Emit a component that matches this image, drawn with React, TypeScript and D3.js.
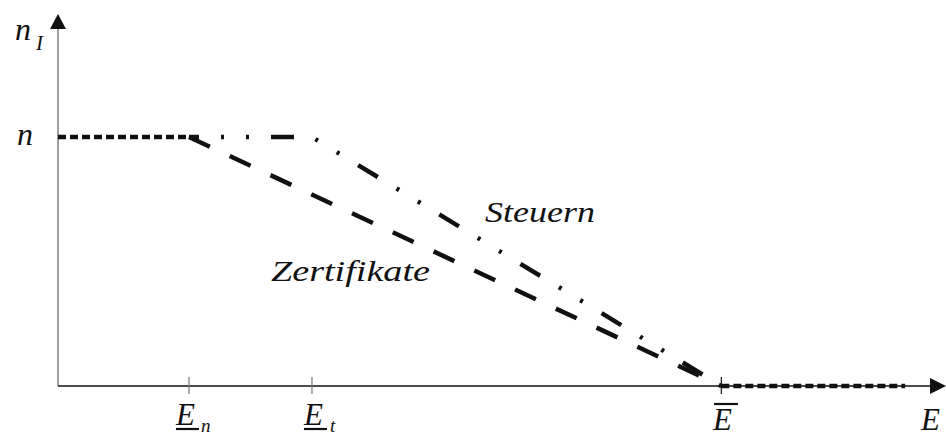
import React from "react";
import * as d3 from "d3";

// Data (abstract units)
const E_n = 14.75;
const E_t = 28.6;
const E_bar = 74.7;
const E_end = 95.4;
const nLevel = 1;

const flatBefore: [number, number][] = [[0, nLevel], [E_n, nLevel]];
const steuern: [number, number][] = [[E_n, nLevel], [E_t, nLevel], [E_bar, 0]];
const zertifikate: [number, number][] = [[E_n, nLevel], [E_bar, 0]];
const flatAfter: [number, number][] = [[E_bar, 0], [E_end, 0]];
const xTicks = [E_n, E_t, E_bar];

const W = 946, H = 436;

export default function App() {
  const x = d3.scaleLinear().domain([0, 100]).range([58, 946]);
  const y = d3.scaleLinear().domain([0, 1]).range([386, 137]);
  const line = d3.line<[number, number]>().x(d => x(d[0])).y(d => y(d[1]));
  const font = "'Liberation Serif', 'DejaVu Serif', serif";
  const x0 = x(0), y0 = y(0);
  const ts = { fontFamily: font, fontStyle: "italic" as const };
  return (
    <svg width={W} height={H} style={{ position: "absolute", left: 0, top: 0, background: "#fff" }}>
      {/* y axis */}
      <line x1={x0} y1={y0} x2={x0} y2={26} stroke="#888" strokeWidth={1.6} />
      <path d={`M${x0},14 L${x0 - 8},29 L${x0 + 8},29 Z`} fill="#111" />
      {/* x axis */}
      <line x1={x0} y1={y0} x2={936} y2={y0} stroke="#111" strokeWidth={1.4} />
      <path d={`M946,${y0} L930,${y0 - 8} L930,${y0 + 8} Z`} fill="#111" />
      {xTicks.map((t, i) => (
        <line key={i} x1={x(t)} x2={x(t)} y1={y0 - 9} y2={y0 + 8} stroke={i < 2 ? "#777" : "#111"} strokeWidth={1.2} />
      ))}
      {/* lines */}
      <path d={line(flatBefore) || ""} fill="none" stroke="#111" strokeWidth={4.5} strokeDasharray="8 4" />
      <path d={line(flatAfter) || ""} fill="none" stroke="#111" strokeWidth={4.5} strokeDasharray="8 4" />
      <path d={line(zertifikate) || ""} fill="none" stroke="#111" strokeWidth={4.5} strokeDasharray="23 22" />
      <path d={line(steuern) || ""} fill="none" stroke="#111" strokeWidth={4.5} strokeDasharray="23 22 3 22 3 22" strokeDashoffset={13} />
      {/* labels */}
      <g fill="#111">
        <text x={15} y={40} fontSize={32} style={ts}>n</text>
        <text x={36} y={50} fontSize={21} style={ts}>I</text>
        <text x={17} y={145} fontSize={32} style={ts}>n</text>
        <text x={485} y={222} fontSize={29} style={ts} textLength={110} lengthAdjust="spacingAndGlyphs">Steuern</text>
        <text x={271} y={281} fontSize={29} style={ts} textLength={159} lengthAdjust="spacingAndGlyphs">Zertifikate</text>
        <text x={176} y={425} fontSize={31} style={ts}>E</text>
        <text x={201} y={432} fontSize={19} style={ts}>n</text>
        <line x1={176} x2={199} y1={429} y2={429} stroke="#111" strokeWidth={2.2} />
        <text x={304} y={425} fontSize={31} style={ts}>E</text>
        <text x={330} y={432} fontSize={19} style={ts}>t</text>
        <line x1={304} x2={327} y1={429} y2={429} stroke="#111" strokeWidth={2.2} />
        <text x={713} y={430} fontSize={31} style={ts}>E</text>
        <line x1={714} x2={738} y1={404} y2={404} stroke="#111" strokeWidth={2.2} />
        <text x={921} y={430} fontSize={31} style={ts}>E</text>
      </g>
    </svg>
  );
}
